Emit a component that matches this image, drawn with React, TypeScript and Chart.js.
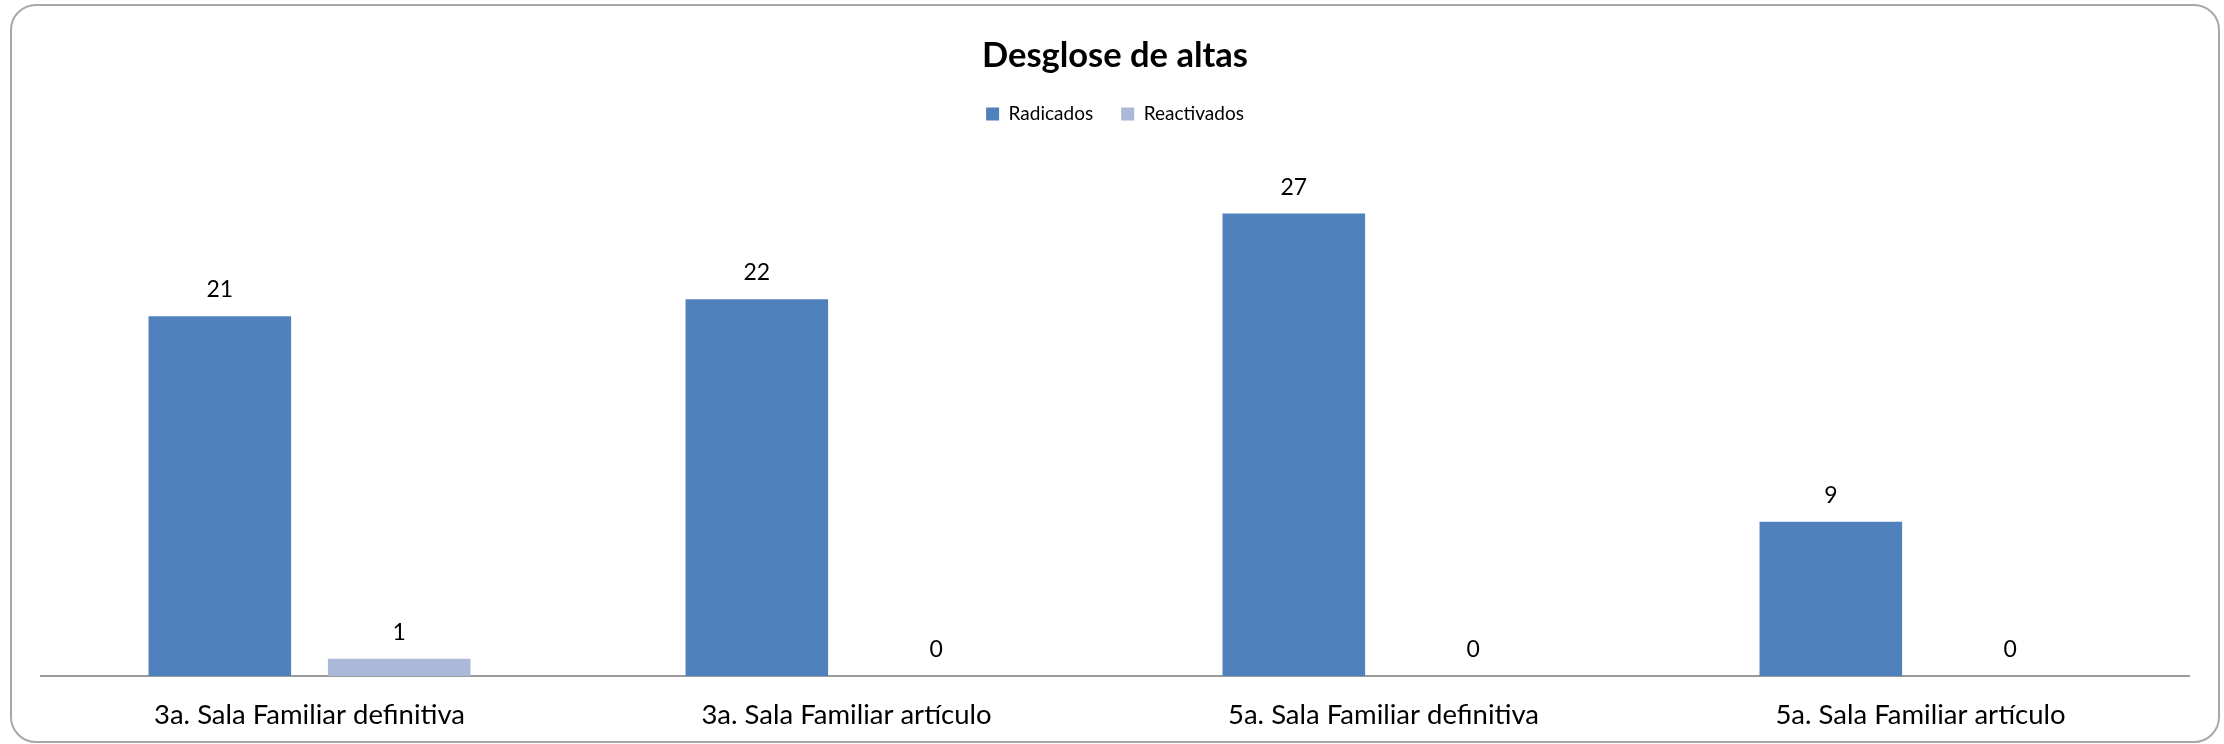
import React, { useEffect, useRef } from "react";
import { Chart, registerables } from "chart.js";

Chart.register(...registerables);

const categories = [
  "3a. Sala Familiar definitiva",
  "3a. Sala Familiar artículo",
  "5a. Sala Familiar definitiva",
  "5a. Sala Familiar artículo",
];
const radicados = [21, 22, 27, 9];
const reactivados = [1, 0, 0, 0];
const seriesNames = ["Radicados", "Reactivados"];
const chartTitle = "Desglose de altas";

const FONT = "Lato, 'Open Sans', 'Noto Sans', sans-serif";

const valueLabels = {
  id: "valueLabels",
  afterDatasetsDraw(chart: any) {
    const ctx = chart.ctx;
    ctx.save();
    ctx.font = `23px ${FONT}`;
    ctx.fillStyle = "#000";
    ctx.textAlign = "center";
    ctx.textBaseline = "alphabetic";
    chart.data.datasets.forEach((ds: any, di: number) => {
      const meta = chart.getDatasetMeta(di);
      meta.data.forEach((bar: any, i: number) => {
        ctx.fillText(String(ds.data[i]), bar.x, bar.y - 19);
      });
    });
    ctx.restore();
  },
};

export default function App() {
  const ref = useRef<HTMLCanvasElement | null>(null);
  useEffect(() => {
    if (!ref.current) return;
    const chart = new Chart(ref.current, {
      type: "bar",
      data: {
        labels: categories,
        datasets: [
          {
            label: seriesNames[0],
            data: radicados,
            backgroundColor: "#4F81BD",
            categoryPercentage: 0.668,
            barPercentage: 0.795,
          },
          {
            label: seriesNames[1],
            data: reactivados,
            backgroundColor: "#AAB9D7",
            categoryPercentage: 0.668,
            barPercentage: 0.795,
          },
        ],
      },
      options: {
        animation: false,
        responsive: false,
        devicePixelRatio: 1,
        layout: { padding: { top: 5, left: 41, right: 35, bottom: 0 } },
        plugins: {
          title: {
            display: true,
            text: chartTitle,
            color: "#000",
            font: { family: FONT, size: 34.5, weight: "bold" },
            padding: { top: 30, bottom: 0 },
          },
          legend: {
            display: true,
            position: "top",
            labels: {
              color: "#000",
              font: { family: FONT, size: 19 },
              boxWidth: 13,
              boxHeight: 13,
              padding: 28,
            },
          },
          tooltip: { enabled: false },
        },
        scales: {
          x: {
            grid: { display: false, drawTicks: false },
            border: { display: true, color: "#9a9a9a", width: 2 },
            ticks: {
              color: "#000",
              font: { family: FONT, size: 27.5 },
              padding: 23,
              maxRotation: 0,
            },
            afterFit: (scale: any) => {
              scale.height = 68;
            },
          },
          y: {
            display: false,
            min: 0,
            max: 31.68,
          },
        },
      },
      plugins: [valueLabels],
    });
    return () => chart.destroy();
  }, []);

  return (
    <div style={{ position: "fixed", left: 0, top: 0, width: 2224, height: 744, background: "#fff" }}>
      <canvas ref={ref} width={2224} height={744} style={{ width: 2224, height: 744, display: "block" }} />
      <div
        style={{
          position: "absolute",
          left: 10,
          top: 4,
          width: 2210,
          height: 739,
          boxSizing: "border-box",
          border: "2px solid #a8a8a8",
          borderRadius: 26,
          pointerEvents: "none",
        }}
      />
    </div>
  );
}
